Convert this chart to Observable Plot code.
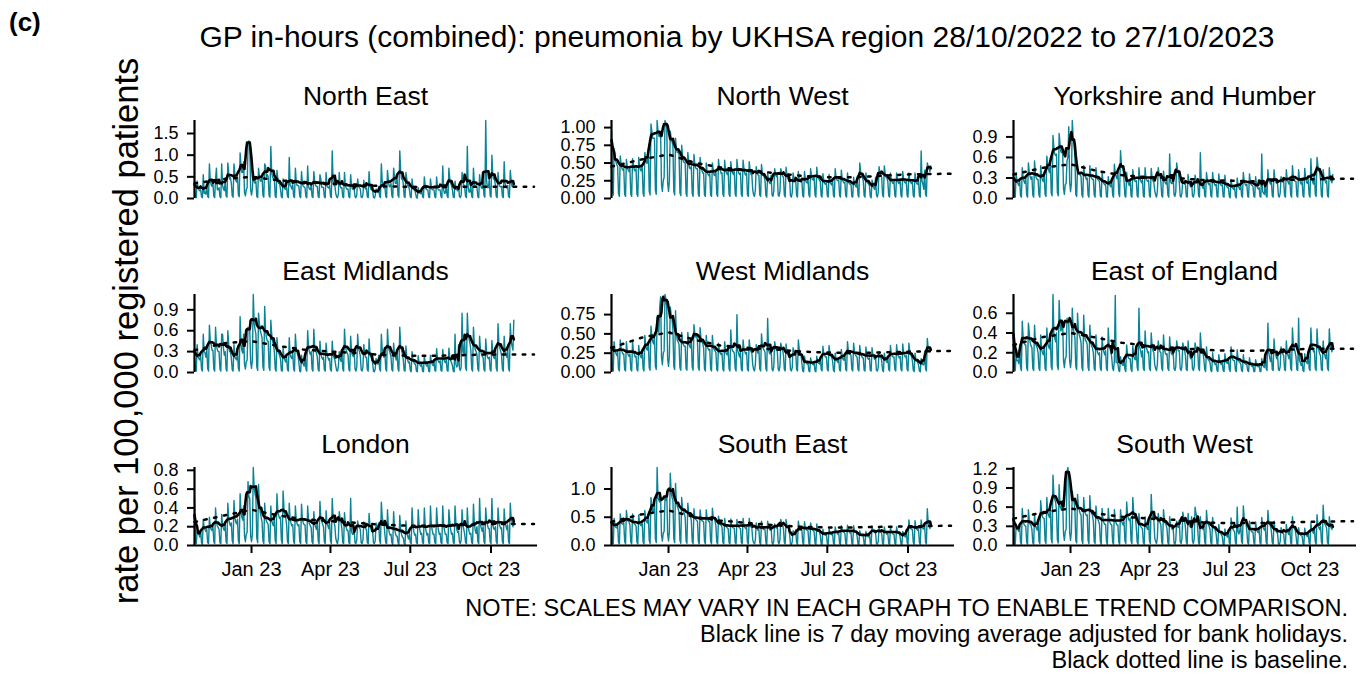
<!DOCTYPE html>
<html><head><meta charset="utf-8">
<script src="https://cdn.jsdelivr.net/npm/d3@7"></script>
<script src="https://cdn.jsdelivr.net/npm/@observablehq/plot@0.6"></script>
<style>
body{margin:0;background:#fff;}
#chart{position:relative;width:1371px;height:675px;overflow:hidden;background:#fff;font-family:"Liberation Sans",Arial,sans-serif;}
#chart svg{position:absolute;overflow:visible;background:transparent !important;}
</style></head><body><div id="chart"></div>
<script>
// ---------------- DATA ----------------
const chartTitle = "GP in-hours (combined): pneumonia by UKHSA region 28/10/2022 to 27/10/2023";
const panelTag = "(c)";
const yLabel = "rate per 100,000 registered patients";
const notes = ["NOTE: SCALES MAY VARY IN EACH GRAPH TO ENABLE TREND COMPARISON.",
  "Black line is 7 day moving average adjusted for bank holidays.",
  "Black dotted line is baseline."];
const regions = ["North East","North West","Yorkshire and Humber","East Midlands","West Midlands","East of England","London","South East","South West"];
const startDate = "2022-10-28"; // first daily value (a Friday); one value per day
const xDomain = ["2022-10-28","2023-11-23"];
const xTickDates = ["2023-01-01","2023-04-01","2023-07-01","2023-10-01"];
const xTickLabels = ["Jan 23","Apr 23","Jul 23","Oct 23"];
const bankHolidays = ["2022-12-26","2022-12-27","2023-01-02","2023-04-07","2023-04-10","2023-05-01","2023-05-08","2023-05-29","2023-08-28"];

// daily rates, one row per week (Fri, Sat, Sun, Mon, Tue, Wed, Thu)
const northEast = [
.22,.04,.02,.40,.26,.20,.18, .20,.04,.02,.55,.12,.15,.10, .30,.05,.02,.80,.40,.32,.28, .35,.05,.02,.45,.70,.20,.20,
.25,.04,.02,.80,.30,.22,.18, .40,.06,.03,.82,.60,.45,.48, .35,.06,.03,.80,.55,.42,.38, .50,.08,.04,1.05,.75,.60,.60,
.85,.15,.06,.20,.25,1.25,1.33, 1.30,.20,.08,.22,.62,.40,.35, .40,.05,.02,.70,.50,.40,.40, .50,.07,.03,.80,.75,.50,.55,
.50,.07,.03,1.20,.60,.48,.47, .45,.05,.02,.65,.45,.35,.35, .22,.04,.02,.45,.30,.22,.21, .25,.05,.02,.95,.30,.28,.22,
.32,.05,.02,.70,.38,.30,.30, .28,.05,.02,.62,.35,.28,.27, .25,.04,.02,.75,.28,.22,.20, .30,.05,.02,.62,.40,.30,.28,
.28,.05,.02,.55,.45,.26,.26, .25,.04,.02,.60,.30,.26,.24, .30,.05,.02,1.10,.40,.30,.30, .12,.04,.02,.10,.60,.30,.24,
.25,.04,.02,.60,.30,.24,.21, .22,.04,.02,.55,.30,.22,.21, .22,.04,.02,.08,.45,.28,.25, .22,.03,.02,.08,.42,.26,.22,
.24,.04,.02,.62,.30,.22,.22, .20,.03,.01,.06,.22,.16,.14, .28,.05,.02,.80,.40,.28,.24, .30,.05,.02,.65,.40,.28,.27,
.35,.06,.02,.70,.50,.35,.35, .45,.07,.03,1.10,.65,.45,.45, .35,.05,.02,.60,.45,.30,.30, .20,.04,.02,.45,.25,.20,.20,
.12,.02,.01,.25,.15,.12,.11, .20,.04,.02,.50,.28,.22,.20, .20,.03,.02,.45,.25,.20,.20, .20,.04,.02,.50,.25,.20,.20,
.20,.04,.02,.75,.20,.12,.13, .30,.06,.02,.70,.45,.35,.30, .20,.03,.02,.40,.22,.20,.18, .30,.05,.02,.08,.60,.38,.32,
.25,.05,.02,1.20,.25,.15,.15, .30,.05,.02,.70,.35,.28,.27, .25,.04,.02,.55,.32,.25,.23, .40,.07,.03,1.80,.40,.25,.25,
.45,.07,.03,1.00,.55,.45,.45, .30,.05,.02,.60,.35,.28,.27, .28,.05,.02,.85,.35,.28,.24, .30,.05,.02,.65,.40,.28,.27,
.40];
const northWest = [
.95,.10,.05,.70,.60,.52,.48, .45,.07,.03,.60,.48,.42,.40, .42,.06,.03,.55,.45,.40,.38, .42,.06,.03,.56,.48,.40,.39,
.42,.06,.03,.58,.46,.40,.39, .45,.07,.03,.65,.55,.50,.50, .70,.10,.05,1.05,.95,.85,.85, .85,.12,.06,1.10,.95,.88,.87,
.90,.20,.10,.25,.30,1.10,1.05, 1.00,.22,.10,.25,.95,.85,.80, .75,.10,.05,.85,.70,.65,.65, .62,.08,.04,.75,.60,.52,.51,
.50,.07,.03,.65,.50,.43,.42, .45,.07,.03,.62,.48,.43,.42, .42,.06,.03,.58,.44,.40,.36, .36,.05,.03,.50,.38,.34,.32,
.35,.05,.03,.50,.40,.33,.32, .38,.06,.03,.55,.42,.40,.35, .36,.06,.03,.54,.40,.36,.34, .38,.06,.03,.52,.40,.36,.34,
.38,.06,.03,.55,.42,.36,.34, .36,.06,.03,.54,.42,.35,.33, .36,.05,.03,.52,.40,.34,.33, .12,.05,.03,.12,.45,.36,.33,
.33,.05,.03,.48,.36,.32,.31, .25,.04,.02,.36,.26,.22,.21, .33,.05,.03,.10,.42,.34,.31, .34,.05,.03,.10,.42,.36,.32,
.30,.05,.02,.44,.32,.28,.26, .30,.04,.02,.08,.36,.28,.26, .26,.04,.02,.38,.28,.25,.23, .25,.04,.02,.38,.27,.23,.22,
.28,.05,.02,.42,.32,.27,.26, .30,.05,.02,.44,.32,.28,.26, .24,.04,.02,.35,.25,.21,.20, .22,.04,.02,.34,.24,.21,.19,
.27,.04,.02,.42,.30,.26,.25, .26,.04,.02,.40,.28,.24,.22, .23,.04,.02,.36,.25,.21,.20, .20,.03,.02,.30,.21,.18,.16,
.30,.05,.02,.50,.38,.32,.30, .25,.04,.02,.36,.26,.22,.21, .18,.03,.01,.26,.18,.15,.13, .30,.05,.02,.08,.45,.36,.33,
.30,.05,.02,.46,.35,.30,.29, .24,.04,.02,.36,.26,.23,.21, .24,.04,.02,.36,.27,.22,.21, .25,.04,.02,.38,.27,.23,.22,
.24,.04,.02,.36,.26,.23,.21, .23,.04,.02,.36,.25,.21,.20, .25,.04,.02,.67,.25,.20,.13, .40,.06,.03,.50,.45,.42,.38,
.46];
const yorkshireHumber = [
.22,.04,.02,.38,.24,.22,.19, .28,.04,.02,.45,.30,.25,.22, .30,.05,.02,.52,.38,.32,.28, .32,.05,.02,.55,.35,.30,.28,
.28,.05,.02,.48,.32,.27,.25, .35,.06,.03,.62,.48,.42,.38, .55,.08,.04,.92,.75,.65,.63, .65,.09,.04,.95,.80,.68,.67,
.70,.15,.06,.20,.22,.55,.60, 1.05,.25,.10,.22,1.14,.90,.80, .60,.06,.03,.45,.38,.35,.35, .32,.05,.02,.48,.35,.32,.28,
.30,.05,.02,.48,.34,.30,.28, .28,.05,.02,.45,.32,.28,.27, .24,.04,.02,.38,.26,.22,.20, .20,.03,.02,.32,.22,.19,.17,
.28,.05,.02,.50,.36,.32,.29, .40,.07,.03,.70,.50,.45,.45, .25,.04,.02,.38,.26,.22,.19, .27,.04,.02,.42,.30,.26,.25,
.26,.04,.02,.45,.30,.26,.23, .28,.04,.02,.45,.30,.27,.25, .27,.04,.02,.44,.30,.26,.23, .12,.05,.02,.10,.45,.36,.33,
.24,.04,.02,.40,.27,.23,.21, .26,.05,.02,.65,.25,.22,.22, .35,.06,.03,.10,.52,.42,.39, .24,.04,.02,.08,.28,.23,.21,
.20,.03,.02,.35,.23,.20,.17, .25,.04,.02,.08,.34,.27,.26, .25,.04,.02,.67,.25,.18,.15, .23,.04,.02,.38,.27,.22,.20,
.22,.04,.02,.38,.25,.21,.19, .21,.03,.02,.36,.24,.20,.19, .20,.03,.02,.34,.22,.18,.16, .16,.03,.01,.28,.18,.15,.13,
.17,.03,.01,.30,.19,.16,.13, .22,.04,.02,.38,.25,.21,.19, .21,.03,.02,.36,.24,.20,.19, .18,.03,.02,.32,.20,.16,.14,
.16,.03,.02,.65,.10,.08,.06, .25,.04,.02,.42,.28,.24,.21, .24,.04,.02,.42,.28,.24,.22, .22,.04,.02,.08,.32,.26,.24,
.25,.04,.02,.42,.28,.24,.21, .28,.05,.02,.48,.32,.27,.25, .25,.04,.02,.42,.28,.24,.21, .25,.04,.02,.44,.30,.24,.22,
.27,.05,.02,.58,.30,.24,.21, .38,.06,.03,.60,.48,.40,.39, .28,.04,.02,.42,.30,.27,.23, .26,.04,.02,.45,.30,.26,.23,
.35];
const eastMidlands = [
.20,.04,.02,.40,.22,.20,.18, .25,.05,.02,.55,.30,.28,.22, .35,.06,.02,.68,.45,.40,.32, .32,.05,.02,.65,.40,.33,.30,
.30,.05,.02,.55,.55,.35,.25, .30,.05,.02,.60,.40,.30,.30, .20,.04,.02,.40,.22,.20,.18, .30,.06,.02,.80,.40,.32,.28,
.55,.12,.05,.15,.18,.65,.62, .60,.15,.06,.18,1.12,.72,.62, .55,.08,.03,.85,.70,.60,.55, .50,.08,.03,.95,.60,.50,.45,
.45,.07,.03,.75,.55,.45,.40, .30,.05,.02,.50,.33,.28,.24, .20,.03,.02,.35,.22,.18,.15, .22,.04,.02,.50,.26,.22,.20,
.28,.05,.02,.55,.35,.28,.24, .14,.02,.01,.25,.15,.12,.09, .28,.05,.02,.60,.36,.30,.26, .30,.05,.02,.62,.38,.32,.28,
.22,.04,.02,.45,.27,.22,.19, .22,.04,.02,.42,.26,.22,.18, .20,.04,.02,.45,.25,.22,.18, .10,.03,.02,.08,.30,.20,.16,
.30,.05,.02,.62,.38,.32,.28, .25,.04,.02,.52,.30,.25,.23, .32,.05,.02,.08,.55,.35,.30, .24,.04,.02,.08,.40,.26,.22,
.22,.04,.02,.48,.28,.22,.20, .14,.02,.01,.05,.20,.14,.12, .25,.05,.02,.55,.32,.26,.22, .30,.05,.02,.62,.38,.32,.28,
.22,.04,.02,.42,.26,.22,.18, .28,.05,.02,.65,.38,.32,.27, .18,.03,.02,.38,.22,.18,.14, .15,.03,.01,.30,.18,.15,.12,
.12,.02,.01,.24,.14,.11,.09, .12,.02,.01,.24,.14,.11,.09, .13,.02,.01,.25,.15,.12,.10, .16,.03,.02,.34,.20,.16,.14,
.17,.03,.02,.33,.20,.16,.14, .18,.03,.02,.35,.21,.17,.14, .10,.02,.01,.55,.12,.08,.10, .40,.06,.03,.08,.85,.30,.25,
.45,.07,.03,.85,.55,.48,.42, .32,.05,.02,.65,.40,.33,.30, .26,.05,.02,.52,.32,.27,.23, .22,.04,.02,.48,.28,.22,.20,
.22,.04,.02,.46,.30,.22,.20, .32,.06,.02,.70,.42,.35,.31, .25,.05,.02,.52,.30,.26,.22, .35,.06,.02,.70,.45,.38,.32,
.75];
const westMidlands = [
.25,.04,.02,.40,.28,.25,.22, .27,.04,.02,.42,.30,.27,.24, .24,.04,.02,.40,.27,.23,.21, .24,.04,.02,.40,.27,.24,.20,
.21,.04,.02,.35,.24,.21,.19, .28,.05,.02,.48,.35,.30,.29, .38,.06,.03,.60,.45,.40,.37, .48,.08,.04,.72,.58,.52,.85,
.98,.20,.10,.25,.28,1.01,.95, .85,.18,.08,.22,.85,.75,.70, .55,.08,.04,.80,.50,.42,.40, .36,.06,.03,.52,.40,.36,.34,
.34,.05,.03,.52,.38,.34,.32, .42,.07,.03,.62,.50,.46,.50, .40,.06,.03,.58,.44,.40,.38, .32,.05,.02,.48,.35,.31,.29,
.30,.05,.02,.48,.34,.30,.28, .26,.04,.02,.38,.28,.25,.23, .25,.04,.02,.40,.28,.24,.23, .28,.05,.02,.55,.32,.28,.27,
.25,.05,.02,.75,.28,.24,.20, .27,.04,.02,.42,.30,.27,.24, .26,.04,.02,.42,.30,.27,.25, .10,.04,.02,.10,.36,.29,.25,
.30,.05,.02,.50,.35,.31,.29, .26,.05,.02,.70,.30,.25,.24, .30,.05,.02,.08,.40,.33,.29, .28,.05,.02,.08,.38,.33,.29,
.23,.04,.02,.37,.26,.23,.21, .24,.04,.02,.06,.32,.27,.25, .27,.04,.02,.42,.30,.27,.24, .12,.02,.01,.21,.14,.12,.11,
.12,.02,.01,.19,.13,.11,.10, .12,.02,.01,.21,.14,.12,.11, .20,.04,.02,.34,.24,.22,.20, .20,.04,.02,.35,.24,.21,.20,
.15,.03,.01,.25,.17,.15,.13, .17,.03,.02,.30,.20,.17,.16, .24,.04,.02,.40,.28,.24,.24, .22,.04,.02,.38,.26,.23,.21,
.20,.04,.02,.35,.24,.22,.19, .19,.03,.02,.33,.22,.19,.17, .19,.03,.02,.32,.22,.20,.17, .19,.03,.02,.06,.27,.22,.20,
.15,.03,.01,.25,.17,.15,.13, .20,.04,.02,.35,.24,.21,.20, .20,.04,.02,.36,.24,.21,.19, .21,.04,.02,.37,.25,.22,.20,
.22,.04,.02,.38,.26,.23,.21, .15,.03,.01,.25,.17,.15,.13, .10,.02,.01,.18,.12,.10,.10, .28,.05,.02,.44,.32,.29,.27,
.30];
const eastOfEngland = [
.57,.04,.02,.20,.12,.12,.09, .28,.05,.02,.52,.35,.32,.28, .28,.05,.02,.50,.40,.30,.27, .25,.04,.02,.48,.30,.27,.25,
.20,.04,.02,.38,.24,.20,.18, .25,.04,.02,.45,.30,.26,.24, .35,.06,.03,.79,.40,.35,.31, .40,.07,.03,.73,.50,.42,.45,
.52,.12,.05,.14,.16,.55,.50, .50,.12,.05,.14,.65,.45,.40, .35,.06,.03,.60,.42,.38,.35, .30,.05,.02,.58,.38,.32,.32,
.28,.05,.02,.48,.32,.27,.25, .20,.04,.02,.38,.24,.20,.18, .20,.04,.02,.36,.25,.21,.18, .22,.04,.02,.45,.28,.24,.21,
.15,.04,.02,.12,.78,.10,.10, .09,.02,.01,.16,.10,.08,.07, .15,.03,.01,.28,.18,.15,.14, .14,.03,.01,.27,.17,.14,.13,
.22,.05,.02,.65,.25,.22,.16, .22,.04,.02,.42,.27,.24,.20, .21,.04,.02,.40,.27,.22,.20, .08,.04,.02,.08,.32,.25,.21,
.20,.04,.02,.38,.24,.20,.18, .19,.04,.02,.36,.23,.19,.18, .21,.04,.02,.06,.32,.25,.22, .22,.04,.02,.06,.30,.25,.23,
.17,.03,.02,.32,.20,.17,.14, .22,.04,.02,.06,.30,.25,.23, .22,.04,.02,.40,.26,.22,.20, .13,.03,.01,.26,.16,.13,.12,
.10,.02,.01,.20,.12,.10,.08, .09,.02,.01,.18,.11,.09,.08, .10,.02,.01,.19,.12,.10,.09, .13,.03,.01,.26,.16,.13,.12,
.12,.02,.01,.23,.14,.11,.10, .09,.02,.01,.18,.11,.09,.08, .08,.02,.01,.15,.09,.07,.06, .07,.01,.01,.13,.08,.06,.06,
.07,.01,.01,.14,.08,.06,.05, .19,.04,.02,.50,.20,.15,.11, .18,.03,.02,.34,.21,.18,.14, .18,.03,.02,.06,.26,.21,.19,
.17,.03,.02,.32,.20,.17,.14, .22,.04,.02,.45,.28,.24,.21, .16,.03,.02,.55,.12,.10,.07, .10,.02,.01,.19,.12,.10,.09,
.22,.04,.02,.45,.28,.24,.21, .22,.04,.02,.44,.27,.23,.19, .17,.03,.02,.32,.20,.17,.14, .22,.04,.02,.44,.28,.25,.21,
.30];
const london = [
.50,.03,.02,.15,.14,.12,.09, .16,.03,.01,.28,.19,.17,.15, .17,.03,.02,.30,.20,.17,.16, .20,.04,.02,.40,.25,.21,.19,
.17,.03,.02,.33,.21,.18,.16, .22,.04,.02,.45,.28,.24,.21, .24,.05,.02,.48,.30,.25,.23, .28,.05,.02,.55,.35,.30,.27,
.42,.10,.04,.12,.14,.68,.52, .50,.10,.04,.12,.83,.62,.55, .50,.08,.03,.65,.45,.35,.30, .25,.05,.02,.45,.30,.26,.24,
.22,.04,.02,.42,.27,.23,.21, .28,.05,.02,.55,.36,.32,.29, .30,.06,.02,.58,.40,.32,.30, .22,.04,.02,.45,.28,.24,.21,
.22,.04,.02,.42,.27,.23,.21, .22,.04,.02,.44,.28,.24,.22, .22,.04,.02,.42,.27,.23,.21, .19,.04,.02,.36,.23,.20,.17,
.24,.05,.02,.47,.30,.26,.23, .20,.04,.02,.37,.24,.21,.18, .24,.05,.02,.50,.30,.25,.21, .08,.04,.02,.08,.36,.29,.25,
.18,.03,.02,.35,.22,.19,.16, .16,.03,.02,.50,.15,.12,.12, .18,.03,.02,.06,.26,.21,.19, .17,.03,.02,.06,.25,.20,.18,
.17,.03,.02,.34,.21,.18,.15, .16,.03,.02,.05,.24,.19,.17, .24,.05,.02,.46,.30,.26,.24, .12,.03,.02,.38,.20,.14,.11,
.12,.03,.01,.36,.19,.13,.10, .10,.03,.01,.32,.17,.12,.09, .08,.02,.01,.26,.14,.10,.07, .12,.03,.02,.40,.22,.15,.11,
.12,.03,.02,.38,.22,.16,.12, .13,.03,.02,.40,.21,.15,.11, .13,.03,.02,.42,.22,.16,.12, .12,.03,.02,.40,.24,.17,.12,
.13,.03,.02,.42,.22,.16,.12, .12,.03,.02,.38,.26,.17,.12, .13,.03,.02,.42,.24,.17,.14, .15,.04,.02,.06,.38,.22,.17,
.12,.03,.02,.40,.21,.15,.12, .13,.03,.02,.44,.24,.16,.13, .20,.04,.02,.50,.22,.18,.15, .20,.04,.02,.40,.25,.22,.18,
.18,.04,.02,.50,.22,.18,.17, .20,.04,.02,.40,.26,.21,.18, .19,.04,.02,.39,.24,.21,.17, .22,.04,.02,.45,.28,.25,.20,
.28];
const southEast = [
.33,.05,.03,.48,.36,.32,.31, .36,.06,.03,.56,.42,.38,.38, .40,.07,.03,.62,.48,.43,.42, .36,.06,.03,.56,.43,.38,.37,
.34,.06,.03,.54,.41,.36,.35, .40,.06,.03,.62,.46,.42,.40, .55,.09,.04,.85,.70,.60,.60, .80,.12,.05,1.38,.85,.80,.77,
.85,.18,.08,.22,.25,.85,.80, .95,.20,.08,.25,1.28,.95,.85, .80,.12,.05,1.10,.75,.70,.65, .58,.09,.04,.85,.65,.60,.57,
.50,.08,.04,.75,.58,.55,.52, .44,.07,.03,.65,.50,.46,.45, .42,.07,.03,.63,.48,.44,.43, .42,.07,.03,.63,.48,.45,.42,
.42,.07,.03,.66,.50,.48,.44, .35,.06,.03,.52,.40,.37,.36, .32,.05,.03,.48,.36,.33,.31, .30,.05,.03,.47,.35,.32,.31,
.30,.05,.03,.46,.35,.33,.31, .30,.05,.03,.48,.35,.32,.30, .32,.05,.03,.48,.36,.33,.31, .10,.05,.03,.10,.40,.32,.27,
.28,.05,.02,.43,.32,.29,.28, .28,.05,.02,.43,.33,.29,.27, .30,.05,.02,.08,.38,.33,.31, .36,.06,.03,.10,.46,.40,.38,
.30,.05,.03,.46,.35,.32,.32, .20,.03,.02,.06,.26,.22,.20, .28,.05,.02,.43,.32,.29,.28, .27,.05,.02,.42,.31,.28,.27,
.26,.04,.02,.40,.30,.28,.26, .24,.04,.02,.38,.28,.26,.24, .18,.03,.02,.29,.21,.19,.18, .19,.03,.02,.30,.22,.20,.19,
.21,.04,.02,.33,.24,.22,.20, .22,.04,.02,.35,.26,.24,.23, .22,.04,.02,.36,.26,.24,.22, .22,.04,.02,.35,.26,.24,.23,
.16,.03,.02,.26,.19,.17,.17, .16,.03,.01,.25,.18,.16,.15, .22,.04,.02,.35,.26,.24,.23, .23,.04,.02,.06,.30,.26,.25,
.21,.04,.02,.33,.24,.22,.20, .21,.04,.02,.33,.24,.22,.20, .20,.04,.02,.33,.24,.22,.21, .15,.03,.01,.25,.18,.17,.15,
.28,.05,.02,.45,.33,.30,.29, .28,.05,.02,.44,.32,.29,.27, .28,.05,.02,.45,.33,.30,.29, .35,.06,.03,.65,.40,.35,.30,
.42];
const southWest = [
.50,.04,.02,.30,.28,.25,.22, .30,.05,.02,.58,.38,.33,.31, .30,.05,.02,.56,.40,.33,.31, .25,.04,.02,.48,.31,.27,.24,
.40,.07,.03,.70,.52,.45,.43, .42,.07,.03,.75,.52,.47,.44, .60,.10,.04,1.10,.80,.72,.68, .55,.09,.04,.95,.62,.58,.55,
.70,.18,.08,.22,.25,1.15,1.22, 1.08,.20,.08,.22,.85,.75,.70, .55,.08,.04,.80,.60,.55,.50, .48,.08,.03,.75,.55,.50,.47,
.48,.08,.03,.78,.55,.52,.47, .38,.06,.03,.62,.45,.42,.38, .33,.06,.02,.58,.40,.36,.33, .33,.06,.02,.58,.40,.36,.33,
.32,.05,.02,.56,.40,.35,.32, .32,.05,.02,.56,.40,.35,.32, .38,.07,.03,.68,.48,.42,.39, .42,.07,.03,.75,.52,.47,.44,
.28,.05,.02,.50,.34,.30,.28, .26,.04,.02,.45,.31,.28,.25, .40,.07,.03,.80,.48,.42,.40, .12,.06,.03,.12,.50,.40,.36,
.32,.05,.02,.56,.40,.35,.32, .26,.04,.02,.45,.31,.28,.25, .28,.04,.02,.08,.38,.30,.28, .40,.06,.03,.10,.52,.44,.40,
.28,.05,.02,.50,.34,.30,.28, .45,.07,.03,.10,.60,.50,.45, .26,.04,.02,.45,.31,.28,.25, .30,.05,.02,.55,.37,.33,.30,
.25,.04,.02,.44,.30,.27,.24, .18,.03,.02,.33,.22,.20,.17, .14,.02,.01,.26,.17,.15,.13, .24,.04,.02,.43,.29,.26,.23,
.22,.04,.02,.60,.22,.18,.23, .34,.06,.03,.62,.42,.38,.36, .22,.04,.02,.38,.26,.23,.21, .21,.04,.02,.37,.25,.22,.20,
.25,.04,.02,.44,.30,.27,.24, .30,.05,.02,.55,.37,.33,.30, .22,.04,.02,.38,.26,.23,.21, .19,.03,.02,.06,.28,.22,.19,
.18,.03,.02,.33,.22,.20,.17, .26,.04,.02,.45,.31,.28,.25, .16,.03,.01,.28,.19,.17,.15, .15,.03,.01,.27,.18,.16,.14,
.20,.04,.02,.35,.24,.22,.19, .26,.05,.02,.48,.32,.29,.25, .30,.06,.02,.63,.38,.33,.31, .26,.04,.02,.45,.31,.28,.25,
.33];

// baseline (dotted) at these dates
const baselineDates = ["2022-10-28","2022-12-01","2023-01-01","2023-02-01","2023-03-01","2023-04-01","2023-05-01","2023-06-01","2023-07-01","2023-08-01","2023-09-01","2023-10-01","2023-11-19"];
const baselineNorthEast = [.35,.45,.50,.42,.38,.34,.32,.28,.27,.26,.27,.27,.27];
const baselineNorthWest = [.45,.55,.62,.50,.44,.40,.36,.32,.30,.30,.32,.34,.35];
const baselineYorkshire = [.35,.45,.50,.40,.34,.31,.30,.27,.26,.25,.27,.28,.29];
const baselineEastMidlands = [.32,.42,.45,.38,.33,.30,.28,.25,.24,.24,.25,.26,.26];
const baselineWestMidlands = [.32,.45,.52,.42,.35,.32,.30,.27,.26,.25,.26,.27,.28];
const baselineEastOfEngland = [.28,.36,.40,.35,.30,.27,.25,.23,.22,.22,.23,.24,.24];
const baselineLondon = [.25,.32,.38,.32,.28,.26,.24,.22,.21,.21,.22,.23,.23];
const baselineSouthEast = [.42,.55,.62,.50,.44,.40,.36,.33,.32,.32,.33,.34,.35];
const baselineSouthWest = [.42,.52,.58,.50,.45,.42,.40,.36,.35,.35,.36,.37,.38];

// y-axis tick labels per panel
const yTicksNorthEast = ["0.0","0.5","1.0","1.5"];
const yTicksNorthWest = ["0.00","0.25","0.50","0.75","1.00"];
const yTicksYorkshire = ["0.0","0.3","0.6","0.9"];
const yTicksEastMidlands = ["0.0","0.3","0.6","0.9"];
const yTicksWestMidlands = ["0.00","0.25","0.50","0.75"];
const yTicksEastOfEngland = ["0.0","0.2","0.4","0.6"];
const yTicksLondon = ["0.0","0.2","0.4","0.6","0.8"];
const yTicksSouthEast = ["0.0","0.5","1.0"];
const yTicksSouthWest = ["0.0","0.3","0.6","0.9","1.2"];

// ---------------- BUILD ----------------
const seriesList = [northEast, northWest, yorkshireHumber, eastMidlands, westMidlands, eastOfEngland, london, southEast, southWest];
const baselineList = [baselineNorthEast, baselineNorthWest, baselineYorkshire, baselineEastMidlands, baselineWestMidlands, baselineEastOfEngland, baselineLondon, baselineSouthEast, baselineSouthWest];
const tickList = [yTicksNorthEast, yTicksNorthWest, yTicksYorkshire, yTicksEastMidlands, yTicksWestMidlands, yTicksEastOfEngland, yTicksLondon, yTicksSouthEast, yTicksSouthWest];

const parse = d3.utcParse("%Y-%m-%d");
const fmtKey = d3.utcFormat("%Y-%m-%d");
const holidaySet = new Set(bankHolidays);
const start = parse(startDate);

function buildDaily(values) {
  const rows = values.map((v, i) => {
    const date = d3.utcDay.offset(start, i);
    const dow = date.getUTCDay();
    return {date, value: v, working: dow !== 0 && dow !== 6 && !holidaySet.has(fmtKey(date))};
  });
  rows.forEach((r, i) => {
    const win = rows.slice(Math.max(0, i - 3), i + 4).filter(d => d.working);
    r.ma = d3.mean(win, d => d.value);
  });
  return rows;
}

const TEAL = "#0a8396";
const FONT = "'Liberation Sans', Arial, Helvetica, sans-serif";
const colLeft = [194, 611, 1013];
const rowTop = [120, 294, 467];
const panelW = 343, panelH = 78;
const chart = document.getElementById("chart");
const xd = xDomain.map(parse);
const xt = xTickDates.map(parse);

// text layer first (behind the panels)
const overlay = d3.select(chart).append("svg").attr("width", 1371).attr("height", 675)
  .style("left", "0px").style("top", "0px").style("z-index", "0").style("pointer-events", "none")
  .attr("font-family", FONT).attr("fill", "#000");
overlay.append("text").attr("x", 9).attr("y", 31).attr("font-size", 26).attr("font-weight", "bold").text(panelTag);
overlay.append("text").attr("x", 737).attr("y", 47).attr("font-size", 30).attr("text-anchor", "middle").text(chartTitle);
regions.forEach((name, i) => {
  const col = i % 3, row = Math.floor(i / 3);
  overlay.append("text").attr("x", colLeft[col] + panelW / 2).attr("y", [105, 280, 453][row])
    .attr("font-size", 26.5).attr("text-anchor", "middle").text(name);
});
overlay.append("text").attr("transform", "translate(138,331) rotate(-90)").attr("font-size", 34.5)
  .attr("text-anchor", "middle").text(yLabel);
notes.forEach((t, j) => {
  overlay.append("text").attr("x", 1348).attr("y", [616, 642, 668][j]).attr("font-size", 23.5)
    .attr("text-anchor", "end").text(t);
});

[0, 1, 2, 3, 4, 5, 7, 8, 6].forEach((i, k) => {
  const name = regions[i];
  const col = i % 3, row = Math.floor(i / 3);
  const daily = buildDaily(seriesList[i]);
  const base = baselineDates.map((d, j) => ({date: parse(d), value: baselineList[i][j]}));
  const labels = tickList[i];
  const ticks = labels.map(Number);
  const mL = 80, mR = 6, mT = 6, mB = row === 2 ? 44 : 6;
  const marks = [
    Plot.line(daily, {x: "date", y: "value", stroke: TEAL, strokeWidth: 1.4}),
    Plot.line(base, {x: "date", y: "value", stroke: "#000", strokeWidth: 2.5, strokeDasharray: "2.5 7.5"}),
    Plot.line(daily, {x: "date", y: "ma", stroke: "#000", strokeWidth: 2.6}),
    Plot.axisY({ticks, tickFormat: d => labels[ticks.indexOf(d)], tickSize: 7, tickPadding: 9, label: null, strokeWidth: 2, fontSize: 18}),
    Plot.ruleX([xd[0]], {stroke: "#000", strokeWidth: 2.2})
  ];
  if (row === 2) {
    marks.push(Plot.axisX({ticks: xt, tickFormat: d => xTickLabels[xt.findIndex(t => +t === +d)], tickSize: 8, tickPadding: 8, label: null, strokeWidth: 2, fontSize: 20}));
    marks.push(Plot.ruleY([0], {stroke: "#000", strokeWidth: 2.2}));
  }
  const svg = Plot.plot({
    width: mL + panelW + mR, height: mT + panelH + mB,
    marginLeft: mL, marginRight: mR, marginTop: mT, marginBottom: mB,
    ariaLabel: name,
    style: {fontFamily: FONT, fontSize: "18px", color: "#000", background: "transparent", overflow: "visible"},
    x: {type: "utc", domain: xd, axis: row === 2 ? undefined : null},
    y: {domain: [0, d3.max(seriesList[i])]},
    marks
  });
  svg.style.left = (colLeft[col] - mL) + "px";
  svg.style.top = (rowTop[row] - mT) + "px";
  svg.style.zIndex = String(1 + k);
  chart.appendChild(svg);
});
</script></body></html>
